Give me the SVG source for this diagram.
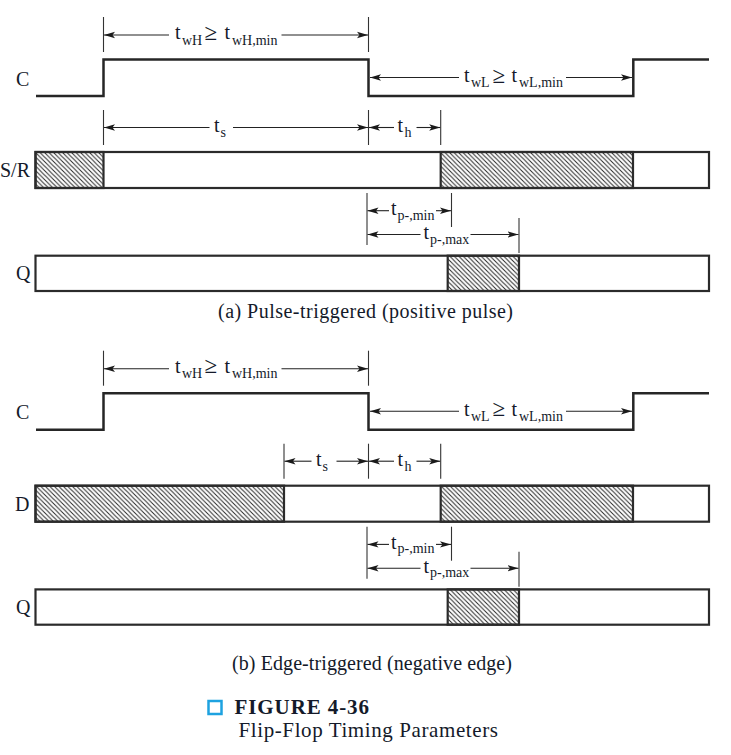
<svg xmlns="http://www.w3.org/2000/svg" width="731" height="755" viewBox="0 0 731 755">
<style>
  text { font-family: "Liberation Serif", "Times New Roman", serif; fill: #141a2a; }
  .lbl { font-size: 20px; }
  .m { font-size: 20px; }
  .ge { font-size: 23px; }
  .s { font-size: 14px; }
  .wave { fill: none; stroke: #262626; stroke-width: 2.5; stroke-linejoin: miter; }
  .bar { fill: #ffffff; stroke: #2b2b2b; stroke-width: 2.2; }
  .hatch { fill: url(#hatch); stroke: #2b2b2b; stroke-width: 2.2; }
  .dim { stroke: #222; stroke-width: 1.1; fill: none; marker-end: url(#arr); }
  .tick { stroke: #333; stroke-width: 1.1; }
  .cap { font-size: 20px; }
</style>
<defs>
  <pattern id="hatch" patternUnits="userSpaceOnUse" width="4.5" height="4.5">
    <path d="M0,0 L4.5,4.5 M-1,3.5 L1,5.5 M3.5,-1 L5.5,1" stroke="#262626" stroke-width="1"/>
  </pattern>
  <marker id="arr" markerUnits="userSpaceOnUse" markerWidth="12" markerHeight="8" refX="11" refY="4" orient="auto">
    <path d="M0,0.8 L11,4 L0,7.2 L2.5,4 z" fill="#1a1a1a"/>
  </marker>
</defs>
<rect width="731" height="755" fill="#ffffff"/>

<!-- ===== (a) Pulse-triggered ===== -->
<g id="a-C">
  <text class="lbl" x="16" y="85.5">C</text>
  <path class="wave" d="M36,96 H103.5 V59.5 H368.5 V96 H633.3 V59.5 H709"/>
</g>
<g id="a-SR">
  <text class="lbl" x="0" y="177">S/R</text>
  <rect class="bar" x="35.5" y="152" width="673.5" height="36"/>
  <rect class="hatch" x="35.5" y="152" width="68" height="36"/>
  <rect class="hatch" x="440.7" y="152" width="192.3" height="36"/>
</g>
<g id="a-Q">
  <text class="lbl" x="16" y="280">Q</text>
  <rect class="bar" x="35.5" y="255.7" width="673.5" height="35.3"/>
  <rect class="hatch" x="447.7" y="255.7" width="71.3" height="35.3"/>
</g>
<g id="a-caption">
  <text class="cap" x="218" y="318" textLength="295">(a) Pulse-triggered (positive pulse)</text>
</g>

<g id="a-connectors">
  <line class="tick" x1="103.5" y1="17" x2="103.5" y2="52"/>
  <line class="tick" x1="368.5" y1="17" x2="368.5" y2="52"/>
  <line class="tick" x1="103.5" y1="110" x2="103.5" y2="145"/>
  <line class="tick" x1="368.5" y1="110" x2="368.5" y2="145"/>
  <line class="tick" x1="440.7" y1="110" x2="440.7" y2="145"/>
  <line class="tick" x1="367" y1="193" x2="367" y2="245"/>
  <line class="tick" x1="451.5" y1="193" x2="451.5" y2="227"/>
  <line class="tick" x1="519" y1="218" x2="519" y2="253"/>

  <line class="dim" x1="169" y1="35" x2="104" y2="35"/>
  <line class="dim" x1="281.5" y1="35" x2="368" y2="35"/>
  <line class="dim" x1="459" y1="77.5" x2="370" y2="77.5"/>
  <line class="dim" x1="566" y1="77.5" x2="632" y2="77.5"/>
  <line class="dim" x1="209.5" y1="127.5" x2="104" y2="127.5"/>
  <line class="dim" x1="233" y1="127.5" x2="368" y2="127.5"/>
  <line class="dim" x1="394" y1="127.5" x2="369" y2="127.5"/>
  <line class="dim" x1="416.5" y1="127.5" x2="440.2" y2="127.5"/>
  <line class="dim" x1="389" y1="210.7" x2="367.5" y2="210.7"/>
  <line class="dim" x1="436" y1="210.7" x2="451" y2="210.7"/>
  <line class="dim" x1="420.5" y1="234.5" x2="367.5" y2="234.5"/>
  <line class="dim" x1="470.5" y1="234.5" x2="518.5" y2="234.5"/>

  <text><tspan class="m" x="175" y="39">t</tspan><tspan class="s" x="182" y="44.5">wH</tspan><tspan class="ge" x="204.5" y="39.5">≥</tspan><tspan class="m" x="224.5" y="39">t</tspan><tspan class="s" x="232" y="44.5">wH,min</tspan></text>
  <text><tspan class="m" x="464" y="82">t</tspan><tspan class="s" x="471" y="87">wL</tspan><tspan class="ge" x="492.5" y="82.5">≥</tspan><tspan class="m" x="511.5" y="82">t</tspan><tspan class="s" x="519" y="87">wL,min</tspan></text>
  <text><tspan class="m" x="214" y="132">t</tspan><tspan class="s" x="220.5" y="137">s</tspan></text>
  <text><tspan class="m" x="397.5" y="132">t</tspan><tspan class="s" x="404.5" y="137">h</tspan></text>
  <text><tspan class="m" x="391" y="215">t</tspan><tspan class="s" x="397.5" y="219.5">p-,min</tspan></text>
  <text><tspan class="m" x="423.5" y="239">t</tspan><tspan class="s" x="430" y="243.5">p-,max</tspan></text>
</g>

<!-- ===== (b) Edge-triggered ===== -->
<g id="b-C">
  <text class="lbl" x="16" y="419">C</text>
  <path class="wave" d="M36,429.7 H103.5 V393.2 H368.5 V429.7 H633.3 V393.2 H709"/>
</g>
<g id="b-D">
  <text class="lbl" x="15" y="511">D</text>
  <rect class="bar" x="35.5" y="485.7" width="673.5" height="36"/>
  <rect class="hatch" x="35.5" y="485.7" width="248.5" height="36"/>
  <rect class="hatch" x="440.7" y="485.7" width="192.3" height="36"/>
</g>
<g id="b-Q">
  <text class="lbl" x="16" y="614">Q</text>
  <rect class="bar" x="35.5" y="589.4" width="673.5" height="35.3"/>
  <rect class="hatch" x="447.7" y="589.4" width="71.3" height="35.3"/>
</g>
<g id="b-caption">
  <text class="cap" x="232" y="669.5" textLength="280">(b) Edge-triggered (negative edge)</text>
</g>

<g id="b-connectors">
  <line class="tick" x1="103.5" y1="350.7" x2="103.5" y2="385.7"/>
  <line class="tick" x1="368.5" y1="350.7" x2="368.5" y2="385.7"/>
  <line class="tick" x1="284" y1="443.7" x2="284" y2="478.7"/>
  <line class="tick" x1="368.5" y1="443.7" x2="368.5" y2="478.7"/>
  <line class="tick" x1="440.7" y1="443.7" x2="440.7" y2="478.7"/>
  <line class="tick" x1="367" y1="526.7" x2="367" y2="578.7"/>
  <line class="tick" x1="451.5" y1="526.7" x2="451.5" y2="560.7"/>
  <line class="tick" x1="519" y1="551.7" x2="519" y2="586.7"/>

  <line class="dim" x1="169" y1="368.7" x2="104" y2="368.7"/>
  <line class="dim" x1="281.5" y1="368.7" x2="368" y2="368.7"/>
  <line class="dim" x1="459" y1="411.2" x2="370" y2="411.2"/>
  <line class="dim" x1="566" y1="411.2" x2="632" y2="411.2"/>
  <line class="dim" x1="311.5" y1="461.2" x2="284.5" y2="461.2"/>
  <line class="dim" x1="336.5" y1="461.2" x2="368" y2="461.2"/>
  <line class="dim" x1="394" y1="461.2" x2="369" y2="461.2"/>
  <line class="dim" x1="416.5" y1="461.2" x2="440.2" y2="461.2"/>
  <line class="dim" x1="389" y1="544.4" x2="367.5" y2="544.4"/>
  <line class="dim" x1="436" y1="544.4" x2="451" y2="544.4"/>
  <line class="dim" x1="420.5" y1="568.2" x2="367.5" y2="568.2"/>
  <line class="dim" x1="470.5" y1="568.2" x2="518.5" y2="568.2"/>

  <text><tspan class="m" x="175" y="372.7">t</tspan><tspan class="s" x="182" y="378.2">wH</tspan><tspan class="ge" x="204.5" y="373.2">≥</tspan><tspan class="m" x="224.5" y="372.7">t</tspan><tspan class="s" x="232" y="378.2">wH,min</tspan></text>
  <text><tspan class="m" x="464" y="415.7">t</tspan><tspan class="s" x="471" y="420.7">wL</tspan><tspan class="ge" x="492.5" y="416.2">≥</tspan><tspan class="m" x="511.5" y="415.7">t</tspan><tspan class="s" x="519" y="420.7">wL,min</tspan></text>
  <text><tspan class="m" x="316" y="465.7">t</tspan><tspan class="s" x="322.5" y="470.7">s</tspan></text>
  <text><tspan class="m" x="397.5" y="465.7">t</tspan><tspan class="s" x="404.5" y="470.7">h</tspan></text>
  <text><tspan class="m" x="391" y="548.7">t</tspan><tspan class="s" x="397.5" y="553.2">p-,min</tspan></text>
  <text><tspan class="m" x="423.5" y="572.7">t</tspan><tspan class="s" x="430" y="577.2">p-,max</tspan></text>
</g>

<!-- ===== Figure caption ===== -->
<g id="figure-caption">
  <rect x="208.5" y="701" width="13" height="13" fill="none" stroke="#1ea2e0" stroke-width="2.5"/>
  <text x="234.5" y="714" font-size="21" font-weight="bold" textLength="134.5">FIGURE 4-36</text>
  <text x="238.5" y="737" font-size="21" textLength="259.5">Flip-Flop Timing Parameters</text>
</g>
</svg>
